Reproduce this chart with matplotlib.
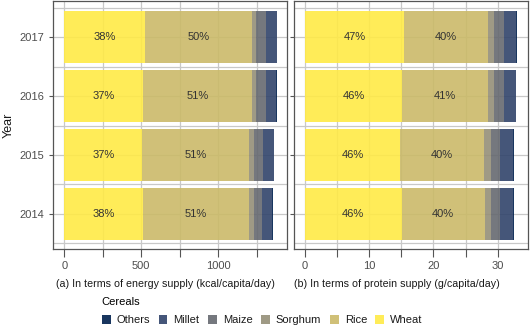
import matplotlib
matplotlib.use('Agg')
import matplotlib.pyplot as plt
from matplotlib.patches import Patch
import numpy as np

plt.rcParams['font.family'] = ['Liberation Sans', 'DejaVu Sans']

years = [2014, 2015, 2016, 2017]
cereals = ['Wheat', 'Rice', 'Sorghum', 'Maize', 'Millet', 'Others']
colors = {'Wheat': '#FFEA46', 'Rice': '#CBBA69', 'Sorghum': '#958F78',
          'Maize': '#666970', 'Millet': '#31446B', 'Others': '#00204D'}

# energy supply (kcal/capita/day), per year 2014..2017
energy = {
    'Wheat':   [509, 506, 513, 522],
    'Rice':    [689, 692, 708, 696],
    'Sorghum': [35, 33, 24, 24],
    'Maize':   [52, 56, 65, 70],
    'Millet':  [65, 72, 66, 66],
    'Others':  [3, 4, 4, 4],
}
# protein supply (g/capita/day), per year 2014..2017
protein = {
    'Wheat':   [15.05, 14.85, 15.15, 15.45],
    'Rice':    [12.95, 13.05, 13.35, 13.1],
    'Sorghum': [1.0, 1.05, 0.95, 0.9],
    'Maize':   [1.3, 1.35, 1.45, 1.5],
    'Millet':  [2.1, 2.1, 1.9, 1.9],
    'Others':  [0.1, 0.1, 0.1, 0.1],
}

W, H = 530, 327
fig = plt.figure(figsize=(W / 100, H / 100), dpi=100)
ax1 = fig.add_axes([53 / W, 1 - 249 / H, 234 / W, 248 / H])
ax2 = fig.add_axes([294 / W, 1 - 249 / H, 234 / W, 248 / H])

grid_c = '#C8C8C8'
alpha = 0.9


def draw(ax, data, xlim, major, minor):
    y = np.array(years)
    left = np.zeros(len(years))
    totals = np.sum([data[c] for c in cereals], axis=0)
    for c in cereals:
        vals = np.array(data[c], dtype=float)
        ax.barh(y, vals, left=left, height=0.885, color=colors[c], alpha=alpha,
                lw=0, zorder=2)
        if c in ('Wheat', 'Rice'):
            for yy, l, v, t in zip(y, left, vals, totals):
                ax.text(l + v / 2, yy, f'{round(100 * v / t):.0f}%', ha='center',
                        va='center', fontsize=8, color='#333333', zorder=3)
        left += vals
    ax.set_xlim(*xlim)
    ax.set_ylim(2013.4, 2017.62)
    ax.set_xticks(major)
    ax.set_xticks(minor, minor=True)
    ax.set_yticks(years)
    ax.set_yticks([2013.5, 2014.5, 2015.5, 2016.5, 2017.5], minor=True)
    ax.grid(True, which='both', color=grid_c, lw=0.9, zorder=0)
    ax.set_axisbelow(True)
    ax.tick_params(axis='y', which='minor', length=0)
    ax.tick_params(axis='y', which='major', length=3, width=0.8, color='#555555',
                   labelsize=8, labelcolor='#4D4D4D', pad=3.5)
    ax.tick_params(axis='x', which='both', length=5.5, width=0.8, color='#555555',
                   labelsize=8, labelcolor='#4D4D4D', pad=3)
    for s in ax.spines.values():
        s.set_color('#555555')
        s.set_linewidth(0.9)


draw(ax1, energy, (-73, 1446), [0, 500, 1000], [250, 750, 1250])
draw(ax2, protein, (-1.66, 34.7), [0, 10, 20, 30], [5, 15, 25])
ax2.tick_params(axis='y', labelleft=False)
ax1.set_ylabel('Year', fontsize=9, color='#1A1A1A', labelpad=3)

fig.text(165.5 / W, 1 - 284 / H, '(a) In terms of energy supply (kcal/capita/day)',
         ha='center', va='center', fontsize=7.7, color='#1A1A1A')
fig.text(397 / W, 1 - 284 / H, '(b) In terms of protein supply (g/capita/day)',
         ha='center', va='center', fontsize=7.7, color='#1A1A1A')

handles = [Patch(facecolor=colors[c], alpha=alpha, lw=0) for c in cereals[::-1]]
leg = fig.legend(handles, cereals[::-1], title='Cereals', ncol=6, loc='lower left',
                 bbox_to_anchor=(100 / W, 0), frameon=False, fontsize=8,
                 title_fontsize=8, handlelength=0.8, handleheight=0.8,
                 handletextpad=0.55, columnspacing=0.75, alignment='left',
                 borderaxespad=0, borderpad=0.15, labelspacing=0.75)
for t in leg.get_texts():
    t.set_color('#1A1A1A')

fig.savefig('out.png', dpi=100)
